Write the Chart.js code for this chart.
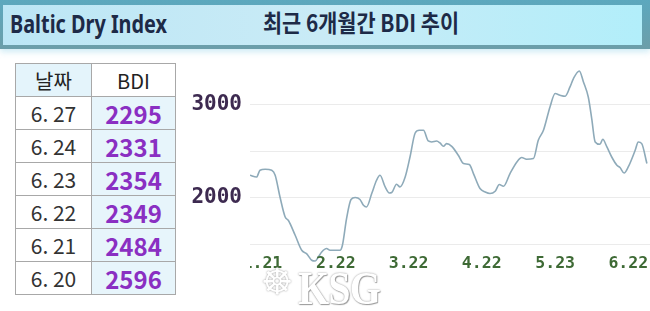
<!DOCTYPE html>
<html><head><meta charset="utf-8">
<script src="https://cdn.jsdelivr.net/npm/chart.js@4.4.0/dist/chart.umd.min.js"></script>
<style>
html,body{margin:0;padding:0;background:#fff;}
body{width:650px;height:311px;position:relative;overflow:hidden;font-family:"Noto Sans CJK KR","Noto Sans",sans-serif;}
#bar{position:absolute;left:0;top:0;width:650px;height:49px;background:linear-gradient(#5ca8be,#6c9ea9);box-shadow:0 3px 6px rgba(120,200,225,0.35);}
#inner{position:absolute;left:3px;top:5px;width:639px;height:40px;background:linear-gradient(90deg,#bce6f5,#c9ebf6 50%,#b2eefa);}
.t{position:absolute;white-space:nowrap;font-weight:700;color:#1d2a47;transform-origin:0 0;line-height:1;}
#t1{left:10px;top:11px;font-family:"Noto Sans",sans-serif;font-size:25px;}
#t2{left:263px;top:10px;font-family:"Noto Sans CJK KR",sans-serif;font-size:24px;}
.cell{position:absolute;box-sizing:border-box;border:1px solid #a8a8a8;display:flex;align-items:center;justify-content:center;}
.hd{font-size:20px;color:#222;}
.dt{font-size:21px;color:#333;}
.vl{font-size:24px;font-weight:700;color:#8a2fc2;}
#chartBox{position:absolute;left:185px;top:50px;width:465px;height:222px;}
#wm{position:absolute;left:298px;top:262px;font-family:"Liberation Serif",serif;font-weight:700;font-size:46px;color:#fff;text-shadow:0 0 2px #8f8f8f,1px 1px 1px #a0a0a0;letter-spacing:-1px;transform-origin:0 0;}
#wheel{position:absolute;left:261px;top:264px;font-family:"DejaVu Sans",sans-serif;font-size:36px;color:#fff;text-shadow:0 0 2px #909090;line-height:1;}
</style></head>
<body>
<div id="bar"><div id="inner"></div></div>
<div class="t" id="t1">Baltic Dry Index</div>
<div class="t" id="t2">최근 6개월간 BDI 추이</div>
<div id="table"></div>
<div id="chartBox"><canvas id="c" width="465" height="222"></canvas></div>
<div id="wheel">☸</div>
<div id="wm">KSG</div>
<script>
// ---- table data ----
const tableHeader = ['날짜', 'BDI'];
const tableDates = ['6. 27', '6. 24', '6. 23', '6. 22', '6. 21', '6. 20'];
const tableValues = [2295, 2331, 2354, 2349, 2484, 2596];

// ---- chart data (trading-day position, BDI value) ----
const dayIdx = [0, 1.9, 2.9, 4.4, 6.3, 7.3, 8.7, 10.2, 11.1, 13.1, 15.0, 16.4, 17.9, 18.9, 19.8, 20.8, 22.2, 23.2, 26.1, 26.8,
  28.0, 29.3, 30.5, 31.9, 32.9, 33.8, 35.3, 36.7, 37.7, 39.2, 40.4, 41.1, 42.5, 43.5, 45.0, 46.4, 47.9, 49.1, 50.3, 51.7,
  52.7, 54.1, 55.1, 56.1, 57.0, 58.5, 60.4, 61.9, 63.6, 64.8, 66.7, 68.2, 69.6, 71.1, 72.3, 73.5, 75.4, 77.4, 78.8, 80.2,
  82.2, 83.6, 85.1, 87.0, 88.5, 89.9, 91.4, 92.8, 93.8, 95.5, 96.7, 98.1, 99.1, 100.1, 101.5, 102.3, 103.5, 104.9, 106.4, 107.3,
  108.5, 109.7, 111.7, 112.6, 113.6, 115.1];
const bdiSeries = [2240, 2221, 2293, 2304, 2293, 2240, 2006, 1791, 1756, 1595, 1433, 1398, 1326, 1318, 1361, 1415, 1452, 1433, 1433, 1487,
  1774, 1979, 2000, 1979, 1917, 1899, 2043, 2186, 2240, 2114, 2049, 2054, 2143, 2114, 2221, 2436, 2694, 2723, 2723, 2608,
  2598, 2608, 2587, 2551, 2580, 2551, 2455, 2366, 2355, 2258, 2097, 2060, 2043, 2068, 2140, 2121, 2258, 2383, 2430, 2412,
  2419, 2616, 2723, 2974, 3118, 3100, 3089, 3189, 3279, 3361, 3243, 3081, 2849, 2598, 2573, 2627, 2544, 2436, 2347, 2323,
  2264, 2329, 2508, 2598, 2580, 2366];

// ---- axis ticks ----
const tickIdx = [3.6, 24.9, 46.0, 67.2, 88.5, 109.7];
const tickLabels = ['1.21', '2.22', '3.22', '4.22', '5.23', '6.22'];
const gridVals = [1500, 2000, 2500, 3000];
const yLabelVals = [2000, 3000];

function fitW(id, w){ const el=document.getElementById(id); const r=el.getBoundingClientRect().width; el.style.transform='scaleX('+(w/r)+')'; }
fitW('t1', 157); fitW('t2', 196); fitW('wm', 82);

const tb = document.getElementById('table');
function cell(x, y, w, h, txt, cls, bg){
  const d=document.createElement('div'); d.className='cell '+cls;
  d.style.left=x+'px'; d.style.top=y+'px'; d.style.width=w+'px'; d.style.height=h+'px';
  d.style.background=bg; d.textContent=txt; tb.appendChild(d);
}
const x0=15, x1=91, x2=176, y0=63, rh=33;
cell(x0, y0, x1-x0+1, rh+1, tableHeader[0], 'hd', '#e4f4fb');
cell(x1, y0, x2-x1, rh+1, tableHeader[1], 'hd', '#ffffff');
tableDates.forEach((d,i)=>{
  const y=y0+(i+1)*rh;
  cell(x0, y, x1-x0+1, rh+1, d, 'dt', '#ffffff');
  cell(x1, y, x2-x1, rh+1, String(tableValues[i]), 'vl', '#e7f5fb');
});

// draws the x tick labels at the positions given by the library's x scale
const xLabelPlugin = {
  id: 'xLabels',
  afterDraw(chart) {
    const xs = chart.scales.x, ys = chart.scales.y, g = chart.ctx, ca = chart.chartArea;
    g.save();
    g.beginPath(); g.rect(ca.left, 0, ca.right - ca.left, chart.height); g.clip();
    g.font = 'bold 16.5px "DejaVu Sans Mono"';
    g.fillStyle = '#3e6a35';
    g.textAlign = 'center';
    g.textBaseline = 'middle';
    const yy = ys.getPixelForValue(1290);
    tickIdx.forEach((v, k) => g.fillText(tickLabels[k], xs.getPixelForValue(v), yy));
    g.restore();
  }
};

new Chart(document.getElementById('c'), {
  type: 'line',
  data: { datasets: [{
    data: dayIdx.map((x,i)=>({x:x, y:bdiSeries[i]})),
    borderColor: '#8eaab9', borderWidth: 1.6, pointRadius: 0,
    cubicInterpolationMode: 'monotone', fill: false
  }]},
  options: {
    responsive: false, animation: false, devicePixelRatio: 1,
    layout: { padding: { top: 8, right: 0, bottom: 0, left: 0 } },
    plugins: { legend: { display: false }, tooltip: { enabled: false } },
    scales: {
      x: { type: 'linear', min: 0, max: 116, display: false },
      y: {
        type: 'linear', position: 'left', min: 1200, max: 3500,
        grid: { color: '#ebebeb', drawTicks: false },
        border: { display: false },
        afterFit: (s) => { s.width = 65; s.paddingTop = 0; s.paddingBottom = 0; },
        afterBuildTicks: (s) => { s.ticks = gridVals.map(v => ({ value: v })); },
        ticks: { padding: 8, color: '#3d2a50',
          font: { family: 'DejaVu Sans Mono', size: 21, weight: 'bold' },
          callback: (v) => yLabelVals.includes(v) ? String(v) : '' }
      }
    }
  },
  plugins: [xLabelPlugin]
});
</script>
</body></html>
